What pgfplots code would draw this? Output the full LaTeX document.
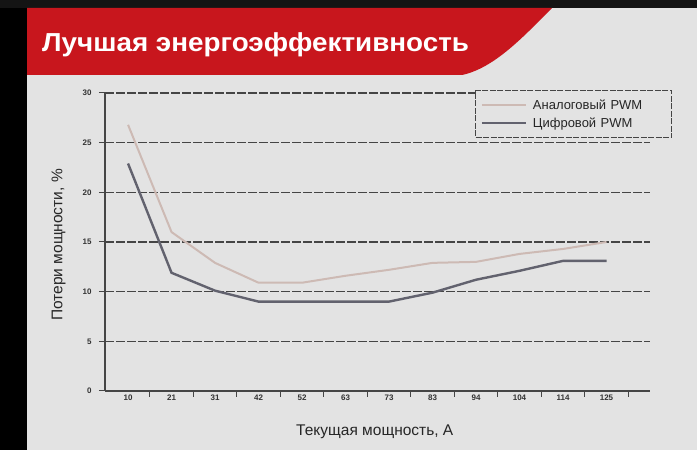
\documentclass[border=0pt]{standalone}
\usepackage{fontspec}
\setmainfont{Liberation Sans}
\usepackage{pgfplots}
\pgfplotsset{compat=1.18}

\definecolor{bg}{HTML}{E3E3E3}
\definecolor{banner}{HTML}{C8161D}
\definecolor{analog}{HTML}{CDBAB4}
\definecolor{digital}{HTML}{62626E}
\definecolor{gridc}{HTML}{454545}

\begin{document}
\begin{tikzpicture}[x=1pt,y=1pt]
% page background, black frame strips and red title banner
\fill[bg] (0,0) rectangle (697,450);
\fill[black] (0,0) rectangle (27,450);
\fill[black!92] (0,442) rectangle (697,450);
\fill[banner] (27,375) -- (462,375) .. controls (495,382) and (525,415) .. (552,442) -- (27,442) -- cycle;
\node[anchor=west, text=white, inner sep=0pt,
      font=\fontsize{26}{26}\selectfont\bfseries] at (42,405)
      {\scalebox{1.07}[1]{Лучшая энергоэффективность}};

\begin{axis}[
    at={(105pt,59pt)}, anchor=south west,
    scale only axis, width=545pt, height=298pt,
    xmin=-0.53, xmax=12, ymin=0, ymax=30,
    axis x line*=bottom, axis y line*=left,
    axis line style={gridc, line width=1.3pt},
    ytick={0,5,...,30},
    xtick={0.5,1.5,...,11.5}, xticklabels={},
    extra x ticks={0,1,...,11},
    extra x tick labels={10,21,31,42,52,63,73,83,94,104,114,125},
    extra x tick style={major tick length=0pt, grid=none},
    major tick length=6pt, tick align=outside,
    tick style={gridc, line width=1pt},
    ymajorgrids,
    grid style={gridc, line width=1.5pt, dash pattern=on 9pt off 2pt},
    /pgf/number format/assume math mode=true,
    ticklabel style={font=\fontsize{8}{9}\selectfont\bfseries, text=black!80},
    yticklabel style={xshift=-4pt},
    xlabel={Текущая мощность, А},
    ylabel={Потери мощности, \%},
    every axis x label/.style={at={(axis description cs:0.495,-0.138)}, anchor=center,
        font=\fontsize{15.5}{16}\selectfont, text=black!85},
    every axis y label/.style={at={(axis description cs:-0.085,0.49)}, rotate=90, anchor=center,
        font=\fontsize{15.5}{16}\selectfont, text=black!85},
    legend cell align=left,
    legend style={at={(0.679,1.01)}, anchor=north west, fill=bg,
        draw=gridc, line width=1pt, dash pattern=on 6pt off 1.5pt,
        font=\fontsize{13}{14}\selectfont, inner xsep=5pt, inner ysep=7pt,
        row sep=3pt, text=black!85,
        /tikz/every odd column/.append style={column sep=4pt},
        /tikz/every even column/.append style={text width=132pt}},
    legend image code/.code={\draw[#1, solid] (0pt,0pt) -- (44pt,0pt);},
]
\addplot[analog, line width=2pt] coordinates {
    (0,26.8) (1,16.0) (2,12.9) (3,10.9) (4,10.9) (5,11.6)
    (6,12.2) (7,12.9) (8,13.0) (9,13.8) (10,14.3) (11,15.0)};
\addlegendentry{Аналоговый PWM}
\addplot[digital, line width=2.4pt] coordinates {
    (0,22.9) (1,11.9) (2,10.1) (3,9.0) (4,9.0) (5,9.0)
    (6,9.0) (7,9.9) (8,11.2) (9,12.1) (10,13.1) (11,13.1)};
\addlegendentry{Цифровой PWM}
\end{axis}
\end{tikzpicture}
\end{document}
